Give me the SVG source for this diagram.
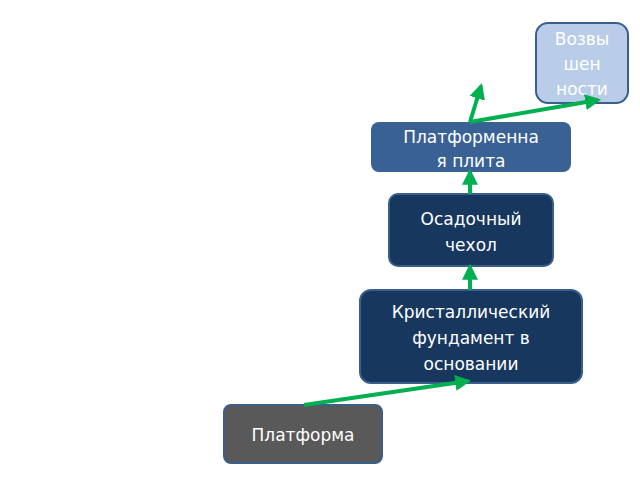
<svg xmlns="http://www.w3.org/2000/svg" width="640" height="480" viewBox="0 0 640 480">
<defs><marker id="a" viewBox="0 0 10 10" refX="8" refY="5" markerWidth="4" markerHeight="4" orient="auto"><path d="M0,0L10,5L0,10z" fill="#00b050"/></marker>
<style>text{font-family:"DejaVu Sans",sans-serif;font-size:17px;fill:#fff;text-anchor:middle}.c{stroke:#00b050;stroke-width:4;fill:none;marker-end:url(#a)}</style></defs>
<rect width="640" height="480" fill="#fff"/>
<g id="n1"><rect x="536" y="23" width="92" height="80" rx="12" fill="#b9cde8" stroke="#3a5f8a" stroke-width="2"/><text x="582" y="45">Возвы</text><text x="582" y="70">шен</text><text x="582" y="95">ности</text></g>
<g id="n2"><rect x="371" y="122" width="200" height="50" rx="8" fill="#3a6194"/><text x="471" y="143">Платформенна</text><text x="471" y="167">я плита</text></g>
<g id="n3"><rect x="389" y="194" width="164" height="72" rx="9" fill="#17375e" stroke="#3a5f8a" stroke-width="2"/><text x="471" y="225">Осадочный</text><text x="471" y="251">чехол</text></g>
<g id="n4"><rect x="360" y="290" width="222" height="93" rx="11" fill="#17375e" stroke="#3a5f8a" stroke-width="2"/><text x="471" y="318">Кристаллический</text><text x="471" y="344">фундамент в</text><text x="471" y="370">основании</text></g>
<g id="n5"><rect x="224" y="405" width="158" height="58" rx="7" fill="#595959" stroke="#3a5f8a" stroke-width="2"/><text x="303" y="441">Платформа</text></g>
<g id="edges">
<path class="c" d="M470,122L481,86"/>
<path class="c" d="M470,122L598,100"/>
<path class="c" d="M470,194L470,172"/>
<path class="c" d="M470,290L470,267"/>
<path class="c" d="M304,405L468,381"/>
</g>
</svg>
